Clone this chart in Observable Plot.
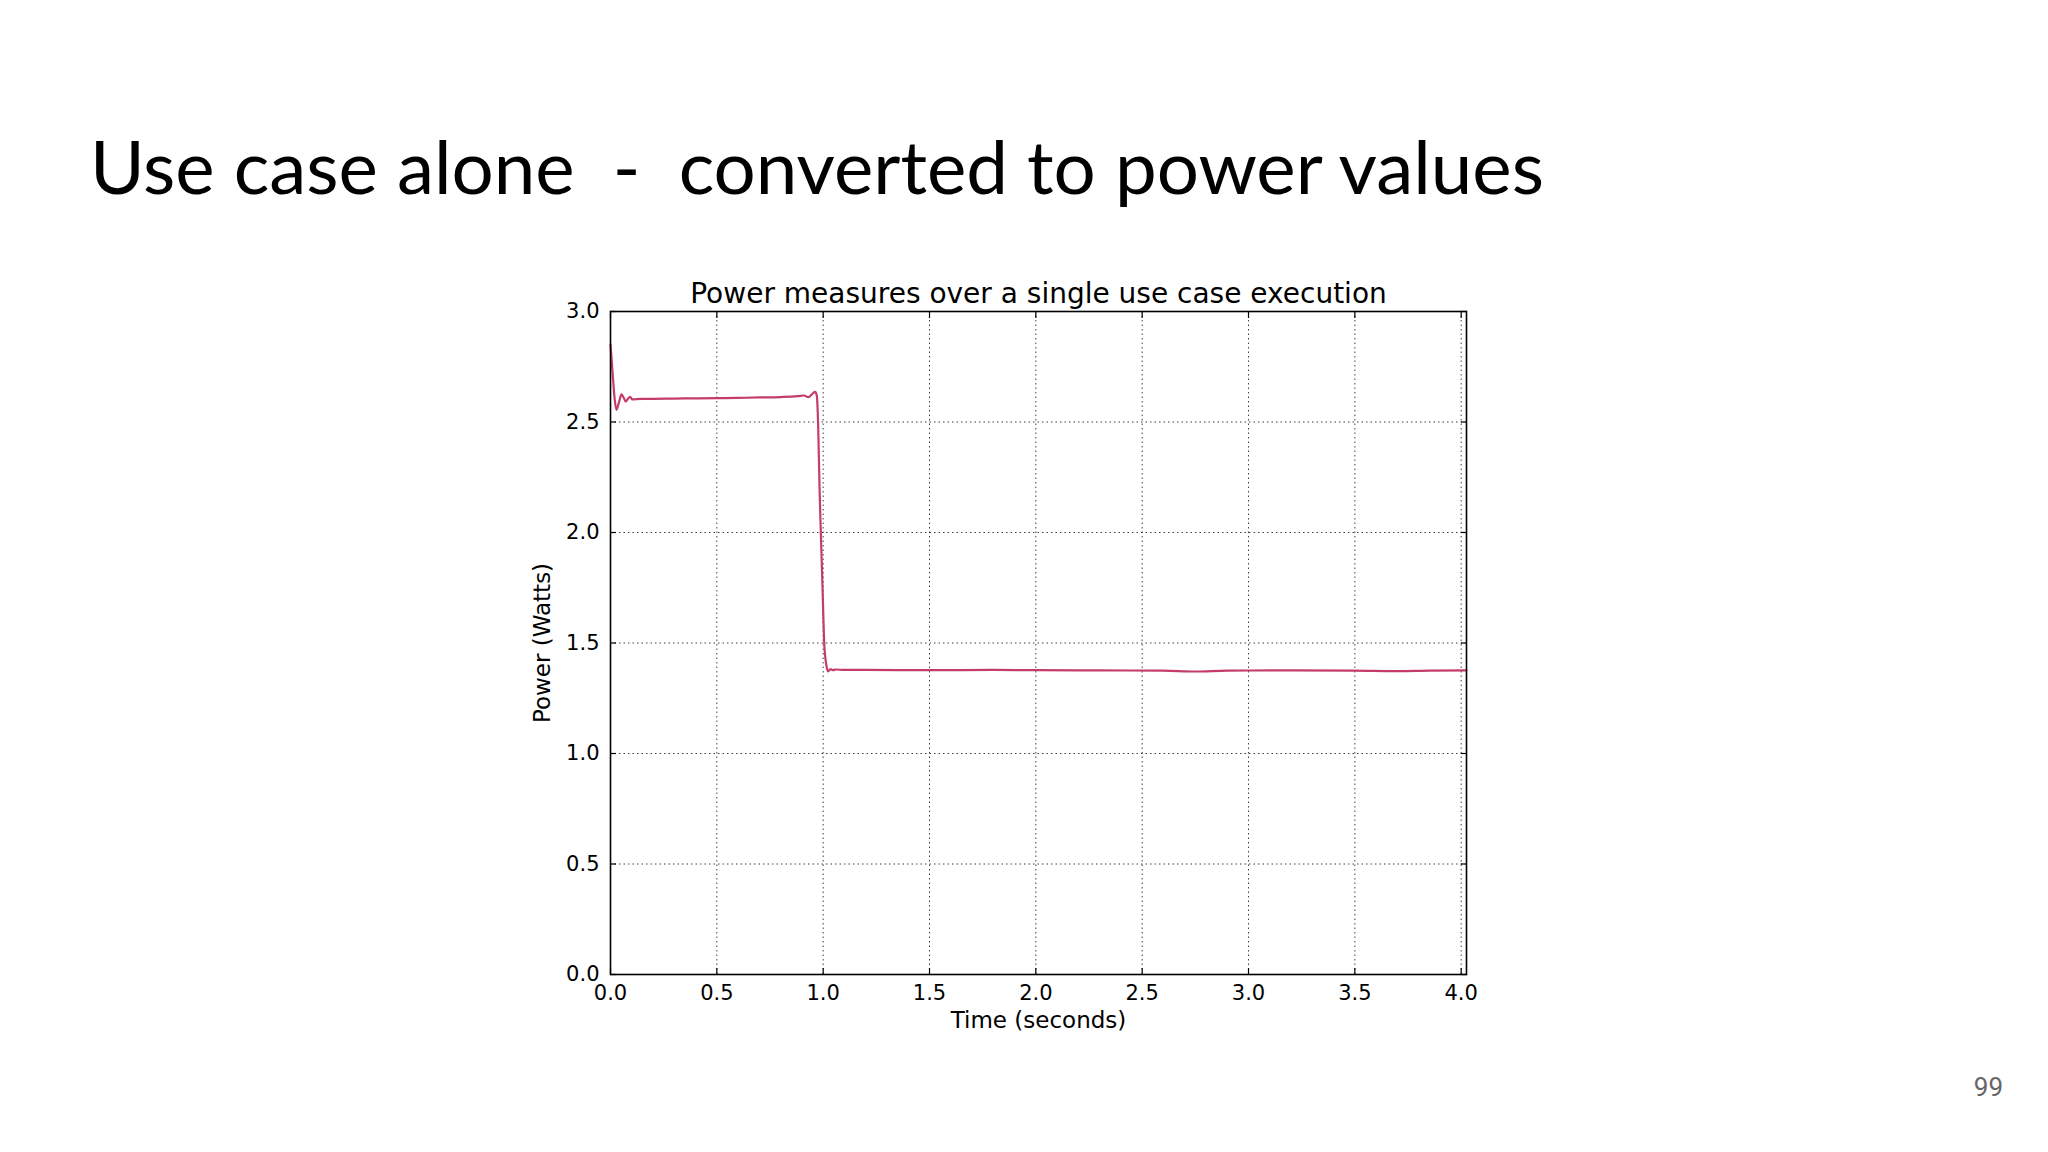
<!DOCTYPE html>
<html>
<head>
<meta charset="utf-8">
<script src="https://cdn.jsdelivr.net/npm/d3@7"></script>
<script src="https://cdn.jsdelivr.net/npm/@observablehq/plot@0.6"></script>
<style>
  html, body { margin: 0; padding: 0; background: #fff; }
  body { width: 2048px; height: 1152px; position: relative; overflow: hidden; }
  #header { height: 240px; position: relative; }
  #title { position: absolute; left: 90px; top: 128px; margin: 0; font-family: Lato, sans-serif; font-weight: 400; font-size: 74.5px; line-height: 1; color: #000; white-space: pre; }
  #page { position: absolute; right: 45px; top: 1072px; font-family: Roboto, sans-serif; font-size: 26px; color: #666; }
  #chart svg { display: block; }
</style>
</head>
<body>
<div id="header"><h1 id="title">Use case alone  -  converted to power values</h1></div>
<div id="chart"></div>
<div id="page">99</div>
<script>
// Data
const time = [0.000, 0.010, 0.020, 0.028, 0.040, 0.052, 0.062, 0.072, 0.082, 0.092, 0.103, 0.115, 0.15, 0.2, 0.3, 0.4, 0.5, 0.6, 0.7, 0.8, 0.88, 0.91, 0.93, 0.95, 0.962, 0.970, 0.976, 0.983, 0.989, 0.997, 1.005, 1.015, 1.023, 1.035, 1.045, 1.06, 1.1, 1.2, 1.5, 1.8, 2.0, 2.3, 2.6, 2.75, 2.9, 3.2, 3.5, 3.7, 3.85, 4.025];
const power = [2.85, 2.72, 2.60, 2.555, 2.59, 2.625, 2.61, 2.592, 2.605, 2.614, 2.602, 2.603, 2.605, 2.605, 2.606, 2.607, 2.608, 2.609, 2.611, 2.613, 2.617, 2.62, 2.612, 2.628, 2.636, 2.62, 2.5, 2.2, 2.0, 1.75, 1.5, 1.4, 1.372, 1.382, 1.377, 1.38, 1.378, 1.378, 1.377, 1.378, 1.377, 1.376, 1.375, 1.371, 1.375, 1.376, 1.375, 1.373, 1.375, 1.376];
const xTicks = [0.0, 0.5, 1.0, 1.5, 2.0, 2.5, 3.0, 3.5, 4.0];
const yTicks = [0.0, 0.5, 1.0, 1.5, 2.0, 2.5, 3.0];
const chartTitle = "Power measures over a single use case execution";
const xLabel = "Time (seconds)";
const yLabel = "Power (Watts)";

const data = time.map((t, i) => ({t, p: power[i]}));
const fmt = d3.format(".1f");
const blank = () => "";
const font = "DejaVu Sans, sans-serif";

const plot = Plot.plot({
  width: 2048,
  height: 912,
  marginLeft: 610,
  marginRight: 582,
  marginTop: 71,
  marginBottom: 178,
  style: { fontFamily: font, fontSize: "21px", color: "#000", background: "#fff" },
  x: { domain: [0, 4.025] },
  y: { domain: [0, 3] },
  marks: [
    Plot.gridX(xTicks, { stroke: "#000", strokeOpacity: 0.75, strokeDasharray: "1.5,3", strokeWidth: 1 }),
    Plot.gridY(yTicks, { stroke: "#000", strokeOpacity: 0.75, strokeDasharray: "1.5,3", strokeWidth: 1 }),
    Plot.line(data, { x: "t", y: "p", stroke: "#c43c68", strokeWidth: 2.2, curve: "monotone-x" }),
    Plot.axisX(xTicks, { anchor: "bottom", tickSize: 0, tickPadding: 11, tickFormat: fmt, label: null, fontSize: 21 }),
    Plot.axisY(yTicks, { anchor: "left", tickSize: 0, tickPadding: 11, tickFormat: fmt, label: null, fontSize: 21 }),
    Plot.axisX(xTicks, { anchor: "top", tickSize: -6, tickFormat: blank, label: null, strokeWidth: 1.2 }),
    Plot.axisX(xTicks, { anchor: "bottom", tickSize: -6, tickFormat: blank, label: null, strokeWidth: 1.2 }),
    Plot.axisY(yTicks, { anchor: "left", tickSize: -6, tickFormat: blank, label: null, strokeWidth: 1.2 }),
    Plot.axisY(yTicks, { anchor: "right", tickSize: -6, tickFormat: blank, label: null, strokeWidth: 1.2 }),
    Plot.frame({ stroke: "#000", strokeWidth: 1.6 }),
    Plot.text([chartTitle], { frameAnchor: "top", dy: -28, fontSize: 28, fill: "#000", fontFamily: font }),
    Plot.text([xLabel], { frameAnchor: "bottom", dy: 53, fontSize: 23, fill: "#000", fontFamily: font }),
    Plot.text([yLabel], { frameAnchor: "left", textAnchor: "middle", dx: -68, rotate: -90, fontSize: 23, fill: "#000", fontFamily: font })
  ]
});
document.getElementById("chart").appendChild(plot);
</script>
</body>
</html>
